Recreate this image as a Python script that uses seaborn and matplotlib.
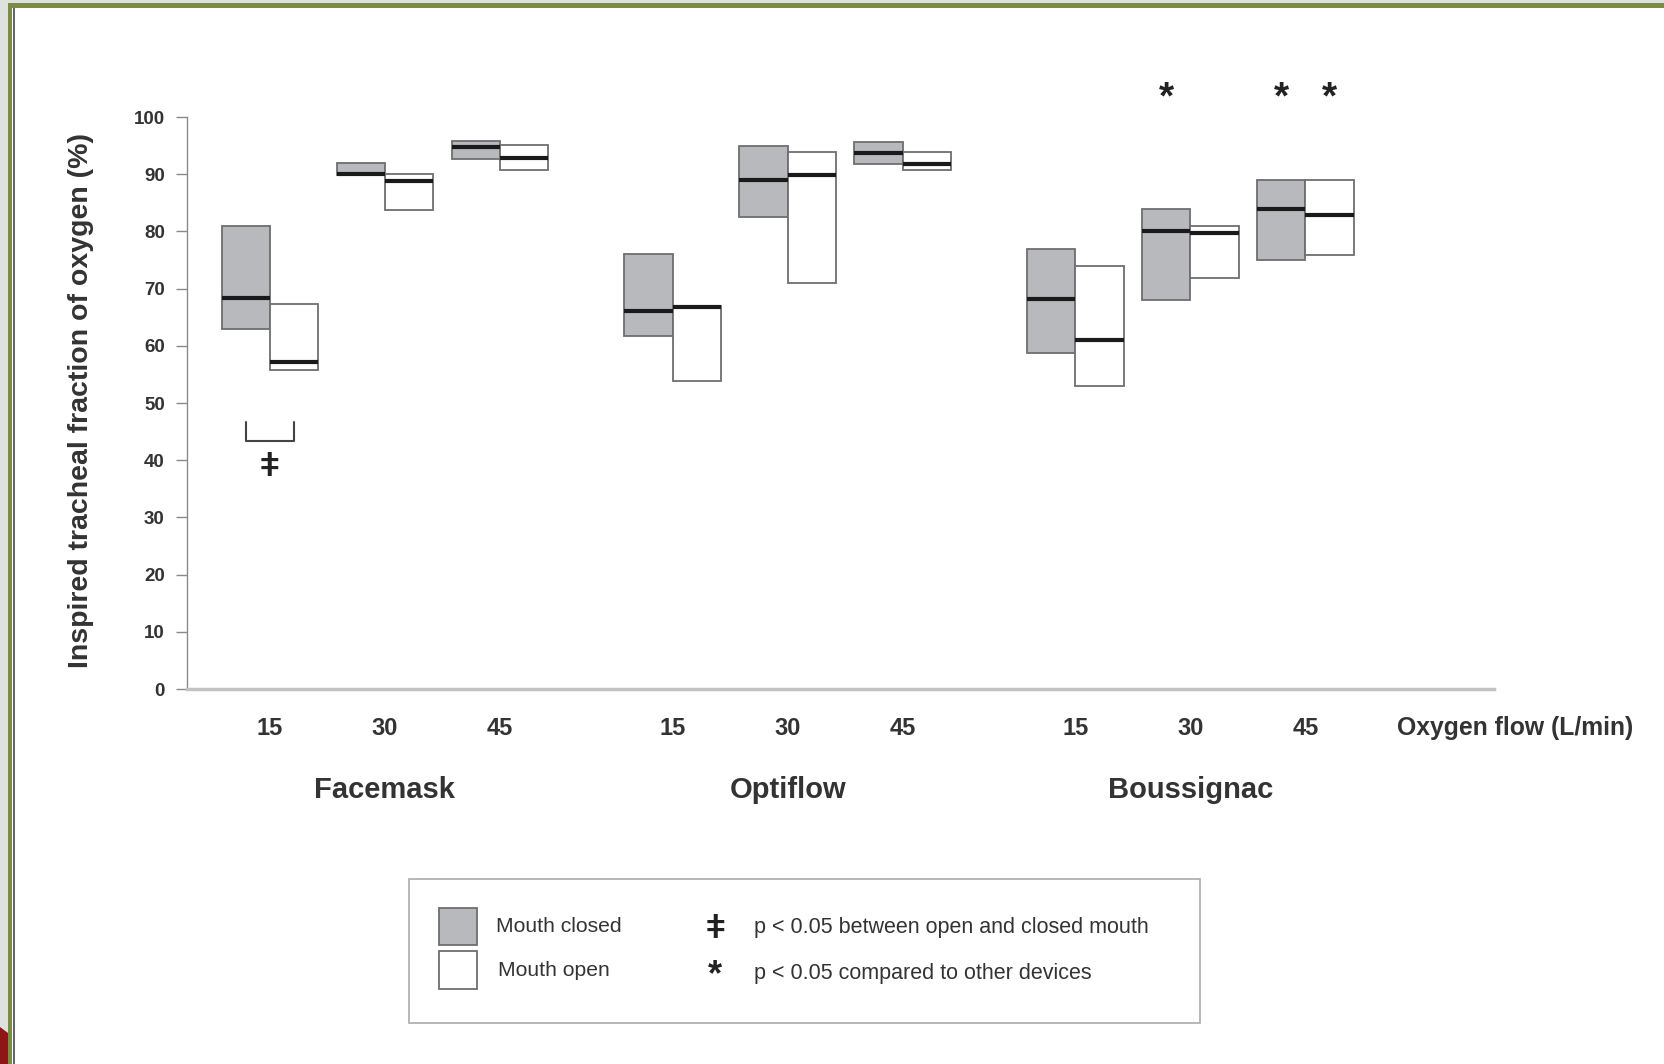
import matplotlib
matplotlib.use("Agg")
import matplotlib.pyplot as plt
from matplotlib.patches import Rectangle, Polygon
import numpy as np
import pandas as pd
import seaborn as sns

# ---------------- data ----------------
devices = ["Facemask", "Optiflow", "Boussignac"]
flows = ["15", "30", "45"]
closed_low = [63, 89.8, 92.7, 61.7, 82.6, 91.7, 58.8, 68.0, 75.0]
closed_med = [68.3, 90.1, 94.8, 66.0, 89.0, 93.7, 68.1, 80.1, 84.0]
closed_high = [81.0, 92.0, 95.8, 76.0, 94.9, 95.6, 76.9, 83.9, 89.0]
open_low = [55.8, 83.7, 90.8, 53.8, 71.0, 90.8, 53.0, 71.9, 75.9]
open_med = [57.2, 88.8, 92.8, 66.8, 89.9, 91.7, 61.0, 79.7, 82.8]
open_high = [67.3, 90.0, 95.1, 67.0, 93.9, 93.9, 74.0, 81.0, 89.0]
star_flags_closed = [0, 0, 0, 0, 0, 0, 0, 1, 1]
star_flags_open = [0, 0, 0, 0, 0, 0, 0, 0, 1]
yticks = [0, 10, 20, 30, 40, 50, 60, 70, 80, 90, 100]

df = pd.DataFrame({
    "device": np.repeat(devices, 3),
    "flow": flows * 3,
    "closed_low": closed_low, "closed_med": closed_med, "closed_high": closed_high,
    "open_low": open_low, "open_med": open_med, "open_high": open_high,
})
gi = np.repeat(np.arange(3), 3)
fi = np.tile(np.arange(3), 3)
df["x"] = gi * 3.5 + fi

# ---------------- style ----------------
sns.set_theme(style="white")
plt.rcParams["font.family"] = ["Liberation Sans", "DejaVu Sans"]
TXT = "#333333"
GRAY = "#b8b9bd"
EDGE = "#6e6e6e"
BW = 0.42

W, H = 1665, 1064
fig = plt.figure(figsize=(W / 100, H / 100), dpi=100)
fig.patch.set_facecolor("white")

# overlay in pixel coordinates (frame, legend, free text)
ov = fig.add_axes([0, 0, 1, 1])
ov.set_xlim(0, W)
ov.set_ylim(H, 0)
ov.axis("off")
ov.patch.set_alpha(0)

ov.add_patch(Rectangle((0, 0), 8, H, facecolor="#dfe1de", edgecolor="none"))
ov.add_patch(Rectangle((0, 0), W, 3, facecolor="#dfe1de", edgecolor="none"))
ov.add_patch(Rectangle((8, 3), 4.5, H, facecolor="#7a8c46", edgecolor="none"))
ov.add_patch(Rectangle((8, 3), W, 4.5, facecolor="#7a8c46", edgecolor="none"))
ov.add_patch(Rectangle((13, 7.5), 2.2, H, facecolor="#666666", edgecolor="none"))
ov.add_patch(Polygon([(0, 1027), (8, 1033), (8, H), (0, H)], closed=True,
                     facecolor="#8e1616", edgecolor="none"))

# main axes
ax = fig.add_axes([187 / W, 1 - 689 / H, 1307 / W, 572 / H])
ax.patch.set_alpha(0)
ax.set_xlim(-0.72, 10.64)
ax.set_ylim(0, 100)

x = df["x"].to_numpy()
ax.bar(x, df["closed_high"] - df["closed_low"], bottom=df["closed_low"], width=-BW,
       align="edge", color=GRAY, edgecolor=EDGE, linewidth=1.3, zorder=2)
ax.bar(x, df["open_high"] - df["open_low"], bottom=df["open_low"], width=BW,
       align="edge", color="white", edgecolor=EDGE, linewidth=1.3, zorder=2)
ax.hlines(df["closed_med"], x - BW, x, color="#1a1a1a", lw=3, zorder=3)
ax.hlines(df["open_med"], x, x + BW, color="#1a1a1a", lw=3, zorder=3)

# significance stars
for xx, f in zip(x, star_flags_closed):
    if f:
        ax.text(xx - BW / 2, 103.3, "*", ha="center", va="center", fontsize=28,
                fontweight="bold", color="#222222", clip_on=False)
for xx, f in zip(x, star_flags_open):
    if f:
        ax.text(xx + BW / 2, 103.3, "*", ha="center", va="center", fontsize=28,
                fontweight="bold", color="#222222", clip_on=False)

# bracket + double-bar dagger (facemask 15)
x0 = x[0]
ax.plot([x0 - BW / 2, x0 - BW / 2, x0 + BW / 2, x0 + BW / 2], [46.6, 43.4, 43.4, 46.6],
        color="#444444", lw=1.5, zorder=3)
ax.text(x0, 38.8, "ǂ", ha="center", va="center", fontsize=24, fontweight="bold",
        color="#222222")

# axes styling
for s in ["top", "right"]:
    ax.spines[s].set_visible(False)
ax.spines["left"].set_color("#8a8a8a")
ax.spines["left"].set_linewidth(1.0)
ax.spines["bottom"].set_color("#c2c2c2")
ax.spines["bottom"].set_linewidth(2.5)
ax.set_yticks(yticks)
ax.set_yticklabels([str(v) for v in yticks], fontsize=13.5, fontweight="bold", color=TXT)
ax.tick_params(axis="y", direction="out", length=8, width=1, color="#8a8a8a", pad=8, left=True)
ax.set_xticks(x)
ax.set_xticklabels(df["flow"], fontsize=17, fontweight="bold", color=TXT)
ax.tick_params(axis="x", length=0, pad=20)
ax.grid(False)

xa = ax.get_xaxis_transform()
for g, dev in enumerate(devices):
    ax.text(g * 3.5 + 1, -0.177, dev, transform=xa, ha="center", va="center",
            fontsize=21, fontweight="bold", color=TXT)

ov.text(1397, 728, "Oxygen flow (L/min)", ha="left", va="center", fontsize=17.8,
        fontweight="bold", color=TXT)
ov.text(81, 401, "Inspired tracheal fraction of oxygen (%)", rotation=90, ha="center",
        va="center", fontsize=20.5, fontweight="bold", color=TXT)

# legend box
ov.add_patch(Rectangle((409, 879), 791, 144, facecolor="white", edgecolor="#aaaaaa", lw=1.2))
ov.add_patch(Rectangle((439, 908), 38, 37, facecolor=GRAY, edgecolor=EDGE, lw=1.3))
ov.add_patch(Rectangle((439, 951), 38, 38, facecolor="white", edgecolor=EDGE, lw=1.3))
ov.text(496, 927, "Mouth closed", ha="left", va="center", fontsize=15.2, color=TXT)
ov.text(498, 971, "Mouth open", ha="left", va="center", fontsize=15.2, color=TXT)
ov.text(715, 929, "ǂ", ha="center", va="center", fontsize=24, fontweight="bold", color="#222222")
ov.text(715, 976, "*", ha="center", va="center", fontsize=26, fontweight="bold", color="#222222")
ov.text(754, 927, "p < 0.05 between open and closed mouth", ha="left", va="center",
        fontsize=15.5, color=TXT)
ov.text(754, 973, "p < 0.05 compared to other devices", ha="left", va="center",
        fontsize=15.5, color=TXT)

fig.savefig("out.png", dpi=100, facecolor="white")
